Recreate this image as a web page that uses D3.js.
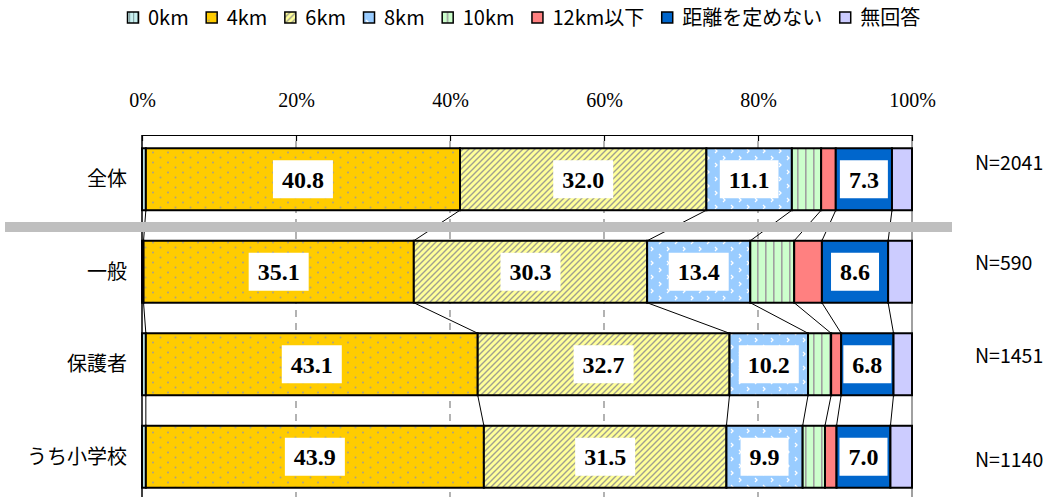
<!DOCTYPE html>
<html>
<head>
<meta charset="utf-8">
<script src="https://cdn.jsdelivr.net/npm/d3@7"></script>
<style>
  html, body { margin: 0; padding: 0; background: #fff; }
  svg { display: block; }
</style>
</head>
<body>
<svg id="chart" width="1048" height="497"></svg>
<script>
// ---- data ----
const categories = ["全体", "一般", "保護者", "うち小学校"];
const seriesNames = ["0km", "4km", "6km", "8km", "10km", "12km以下", "距離を定めない", "無回答"];
const s0km   = [0.5, 0.2, 0.5, 0.5];
const s4km   = [40.8, 35.1, 43.1, 43.9];
const s6km   = [32.0, 30.3, 32.7, 31.5];
const s8km   = [11.1, 13.4, 10.2, 9.9];
const s10km  = [3.8, 5.7, 3.0, 2.9];
const s12km  = [1.9, 3.6, 1.3, 1.5];
const sFree  = [7.3, 8.6, 6.8, 7.0];
const sNoAns = [2.6, 3.1, 2.4, 2.8];
const nLabels = ["N=2041", "N=590", "N=1451", "N=1140"];
const tickValues = [0, 20, 40, 60, 80, 100];
const labelledSeries = ["4km", "6km", "8km", "距離を定めない"];

const seriesValues = [s0km, s4km, s6km, s8km, s10km, s12km, sFree, sNoAns];

// ---- styles ----
const fills = ["url(#p0)", "url(#p4)", "url(#p6)", "url(#p8)", "url(#p10)", "#ff8080", "#0066cc", "#ccccff"];
const sansFont = "'Noto Sans CJK JP', 'Noto Sans', sans-serif";
const serifFont = "'Liberation Serif', 'DejaVu Serif', serif";

const svg = d3.select("#chart");
const defs = svg.append("defs");

// 0km: light cyan with vertical gray stripes
{
  const p = defs.append("pattern").attr("id", "p0").attr("patternUnits", "userSpaceOnUse")
    .attr("width", 4).attr("height", 4);
  p.append("rect").attr("width", 4).attr("height", 4).attr("fill", "#c8f0f0");
  p.append("rect").attr("x", 2).attr("width", 1.2).attr("height", 4).attr("fill", "#8aa8a8");
}
// 4km: gold with gray dots
{
  const p = defs.append("pattern").attr("id", "p4").attr("patternUnits", "userSpaceOnUse")
    .attr("width", 15).attr("height", 10);
  p.append("rect").attr("width", 15).attr("height", 10).attr("fill", "#ffcc00");
  p.append("circle").attr("cx", 3).attr("cy", 2.5).attr("r", 1).attr("fill", "#a8a08a");
  p.append("circle").attr("cx", 10.5).attr("cy", 7.5).attr("r", 1).attr("fill", "#a8a08a");
}
// 6km: light yellow with diagonal gray lines
{
  const p = defs.append("pattern").attr("id", "p6").attr("patternUnits", "userSpaceOnUse")
    .attr("width", 6).attr("height", 6);
  p.append("rect").attr("width", 6).attr("height", 6).attr("fill", "#ffff99");
  p.append("path").attr("d", "M-1,7 L7,-1 M-1,1 L1,-1 M5,7 L7,5")
    .attr("stroke", "#a0a090").attr("stroke-width", 1.4);
}
// 8km: light blue with white chevrons
{
  const p = defs.append("pattern").attr("id", "p8").attr("patternUnits", "userSpaceOnUse")
    .attr("width", 16).attr("height", 14);
  p.append("rect").attr("width", 16).attr("height", 14).attr("fill", "#99ccff");
  p.append("path").attr("d", "M3,2 l2,2 l-2,2 M11,9 l2,2 l-2,2")
    .attr("stroke", "#ffffff").attr("stroke-width", 1.3).attr("fill", "none");
}
// 10km: light green with vertical gray lines
{
  const p = defs.append("pattern").attr("id", "p10").attr("patternUnits", "userSpaceOnUse")
    .attr("width", 8).attr("height", 8);
  p.append("rect").attr("width", 8).attr("height", 8).attr("fill", "#ccffcc");
  p.append("rect").attr("x", 5).attr("width", 1.6).attr("height", 8).attr("fill", "#a0a0a0");
}

// ---- scales ----
const x = d3.scaleLinear().domain([0, 100]).range([142, 912]);
const y = d3.scaleBand().domain(categories).range([133, 503]).paddingInner(0.33).paddingOuter(0.165);

// stacked data
const table = categories.map((c, i) => {
  const row = { category: c };
  seriesNames.forEach((s, j) => row[s] = seriesValues[j][i]);
  return row;
});
const stack = d3.stack().keys(seriesNames)(table);

// ---- gridlines ----
const gridG = svg.append("g");
gridG.selectAll("line.grid").data(tickValues.filter(t => t > 0 && t < 100)).join("line")
  .attr("x1", d => x(d)).attr("x2", d => x(d))
  .attr("y1", 141).attr("y2", 497)
  .attr("stroke", "#808080").attr("stroke-width", 1.2).attr("stroke-dasharray", "7,6");
gridG.append("line").attr("x1", x(100)).attr("x2", x(100)).attr("y1", 135).attr("y2", 497)
  .attr("stroke", "#808080").attr("stroke-width", 1.5);

// ---- top axis ----
const axis = d3.axisTop(x).tickValues(tickValues).tickFormat(d => d + "%")
  .tickSizeInner(-6).tickSizeOuter(0).tickPadding(28);
const axG = svg.append("g").attr("transform", "translate(0,135)").call(axis);
axG.select(".domain").attr("stroke", "#000").attr("stroke-width", 1.2);
axG.selectAll(".tick line").attr("stroke", "#000").attr("stroke-width", 1.2);
axG.selectAll(".tick text").attr("font-family", serifFont).attr("font-size", 20).attr("fill", "#000");

// left axis line
svg.append("line").attr("x1", x(0)).attr("x2", x(0)).attr("y1", 135).attr("y2", 497)
  .attr("stroke", "#000").attr("stroke-width", 1.5);

// ---- connector lines between bars ----
const connG = svg.append("g");
for (let i = 0; i < categories.length - 1; i++) {
  for (let j = 0; j < seriesNames.length - 1; j++) {
    const a = stack[j][i][1], b = stack[j][i + 1][1];
    connG.append("line")
      .attr("x1", x(a)).attr("y1", y(categories[i]) + y.bandwidth())
      .attr("x2", x(b)).attr("y2", y(categories[i + 1]))
      .attr("stroke", "#000").attr("stroke-width", 1);
  }
}

// ---- bars ----
const barG = svg.append("g");
stack.forEach((layer, j) => {
  barG.selectAll(null).data(layer).join("rect")
    .attr("x", d => x(d[0])).attr("width", d => x(d[1]) - x(d[0]))
    .attr("y", (d, i) => y(categories[i])).attr("height", y.bandwidth())
    .attr("fill", fills[j]).attr("stroke", "#000").attr("stroke-width", 2);
});

// ---- data labels ----
const lblG = svg.append("g");
stack.forEach((layer, j) => {
  if (!labelledSeries.includes(seriesNames[j])) return;
  layer.forEach((d, i) => {
    const cx = (x(d[0]) + x(d[1])) / 2;
    const cy = y(categories[i]) + y.bandwidth() / 2;
    const g = lblG.append("g");
    const t = g.append("text").attr("x", cx).attr("y", cy + 8.5)
      .attr("text-anchor", "middle").attr("font-family", serifFont)
      .attr("font-weight", "bold").attr("font-size", 24).attr("fill", "#000")
      .text(seriesValues[j][i].toFixed(1));
    const w = t.node().getComputedTextLength() + 18;
    g.insert("rect", "text").attr("x", cx - w / 2).attr("y", cy - 19)
      .attr("width", w).attr("height", 38).attr("fill", "#fff");
  });
});

// ---- category labels ----
svg.append("g").selectAll("text").data(categories).join("text")
  .attr("x", 127).attr("y", d => y(d) + y.bandwidth() / 2 + 7)
  .attr("text-anchor", "end").attr("font-family", sansFont).attr("font-size", 20)
  .attr("fill", "#000").text(d => d);

// ---- N labels ----
const nOffsets = [-16, -9, -8, 3];
svg.append("g").selectAll("text").data(nLabels).join("text")
  .attr("x", 975).attr("y", (d, i) => y(categories[i]) + y.bandwidth() / 2 + nOffsets[i] + 7)
  .attr("font-family", sansFont).attr("font-size", 19.5).attr("fill", "#000").text(d => d);

// ---- separator ----
svg.append("rect").attr("x", 5).attr("y", 222).attr("width", 947).attr("height", 10).attr("fill", "#bfbfbf");

// ---- legend ----
const legG = svg.append("g").attr("transform", "translate(127,18)");
let lx = 0;
seriesNames.forEach((s, j) => {
  const g = legG.append("g").attr("transform", `translate(${lx},0)`);
  g.append("rect").attr("x", 0.5).attr("y", -6).attr("width", 11).attr("height", 11)
    .attr("fill", fills[j]).attr("stroke", "#000").attr("stroke-width", 1.5);
  const t = g.append("text").attr("x", 21).attr("y", 7).attr("font-family", sansFont)
    .attr("font-size", 20).attr("fill", "#000").text(s);
  lx += 21 + t.node().getComputedTextLength() + 17;
});
</script>
</body>
</html>
